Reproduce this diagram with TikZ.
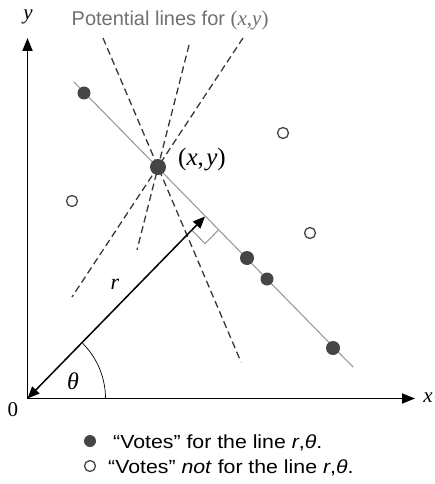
\documentclass[tikz,border=0pt]{standalone}
\usepackage{fontspec}
\usepackage{graphicx}
\setmainfont{Liberation Serif}
\newfontfamily\sansf{Liberation Sans}
\usetikzlibrary{arrows.meta,calc}
\definecolor{dotgray}{HTML}{454545}
\definecolor{linegray}{HTML}{9A9A9A}
\definecolor{titlegray}{HTML}{707070}
\definecolor{dashgray}{HTML}{383838}
\tikzset{
  axis/.style={line width=1.8pt,-{Triangle[length=13pt,width=10pt]}},
  rvec/.style={line width=1.5pt,{Triangle[length=12pt,width=10pt]}-{Triangle[length=12pt,width=10pt]}},
  mainline/.style={draw=linegray,line width=1.1pt},
  potential/.style={draw=dashgray,line width=1.3pt,dash pattern=on 7pt off 4pt},
  vote/.style={circle,fill=dotgray,inner sep=0pt,minimum size=#1},
  vote/.default=13pt,
  novote/.style={circle,draw=dotgray,line width=1.3pt,fill=white,inner sep=0pt,minimum size=11pt},
  serl/.style={inner sep=0pt,font=\fontsize{#1}{#1}\selectfont\itshape},
  serr/.style={inner sep=0pt,font=\fontsize{#1}{#1}\selectfont},
  legend/.style={inner sep=0pt,anchor=base west,font=\sansf\fontsize{19}{20}\selectfont}
}
\begin{document}
\begin{tikzpicture}[x=1pt,y=-1pt]
\useasboundingbox (0,0) rectangle (435,484);
% axes
\coordinate (O) at (27.5,398.5);
\coordinate (xend) at (415,398.5);
\coordinate (yend) at (27.5,38);
% main line and foot
\coordinate (L1) at (74,82);
\coordinate (L2) at (353,367);
\coordinate (F) at (205,216.5);
\coordinate (P) at (158,167);
% potential lines end points
\coordinate (D1a) at (103,38);
\coordinate (D1b) at (241,362);
\coordinate (D2a) at (189,45);
\coordinate (D2b) at (137,250);
\coordinate (D3a) at (243,38);
\coordinate (D3b) at (72,297);
\draw[potential] (D1a) -- (D1b);
\draw[potential] (D2a) -- (D2b);
\draw[potential] (D3a) -- (D3b);
\draw[mainline] (L1) -- (L2);
% right angle mark
\coordinate (RA) at ($(F)!19pt!(L2)$);
\coordinate (RB) at ($(F)!19pt!(O)$);
\coordinate (RC) at ($(RA)+(RB)-(F)$);
\draw[linegray,line width=1.1pt] (RA) -- (RC) -- (RB);
% r vector
\draw[rvec] (O) -- (F);
% theta arc
\coordinate (ArcS) at (105.5,398.5);
\draw[line width=0.7pt] (ArcS) arc[start angle=0,end angle=45,radius=78pt];
\draw[axis] (O) -- (xend);
\draw[axis] (O) -- (yend);
% votes
\node[vote=13pt] (A) at (84,93) {};
\node[vote=16pt] (Pd) at (P) {};
\node[vote=14pt] (B) at (247,258) {};
\node[vote=13pt] (C) at (267,279) {};
\node[vote=14pt] (D) at (333,348) {};
\node[novote] (H1) at (283,133) {};
\node[novote] (H2) at (72,201) {};
\node[novote] (H3) at (310,233) {};
% labels
\node[serr=25] (xylab) at (202,160) {(\textit{x},\hspace{2.5pt}\textit{y})};
\node[serl=24] (thlab) at (73,381) {θ};
\node[serl=22] (rlab) at (115,284) {r};
\node[serl=21] (ylab) at (28,17) {y};
\node[serl=21] (xlab) at (428,398) {x};
\node[serr=21] (zero) at (13,410) {0};
\node[inner sep=0pt,anchor=base west,text=titlegray] (title) at (71.5,25.5)
  {{\sansf\fontsize{20}{22}\selectfont Potential lines for }{\fontsize{21}{22}\selectfont(\textit{x},\textit{y})}};
% legend
\node[vote=12pt] (LgA) at (90,441) {};
\node[novote] (LgB) at (90,466) {};
\node[legend] (lt1) at (113,448) {\scalebox{1.12}[1]{“Votes” for the line \textit{r},\textit{θ}.}};
\node[legend] (lt2) at (108,473) {\scalebox{1.12}[1]{“Votes” \textit{not} for the line \textit{r},\textit{θ}.}};
\end{tikzpicture}
\end{document}
